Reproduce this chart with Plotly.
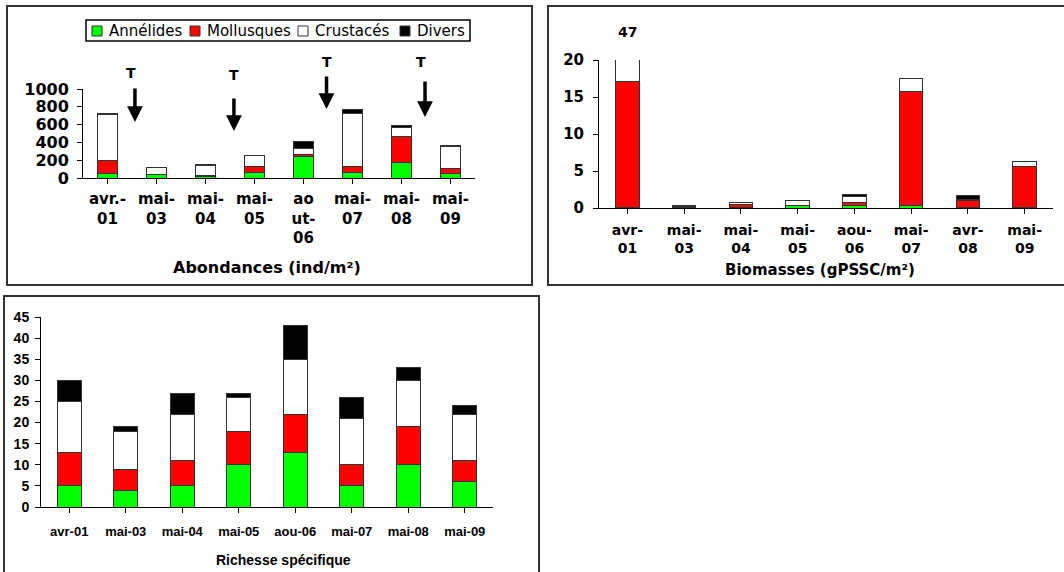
import plotly.graph_objects as go

W, H = 1064, 572

# ---------------- data ----------------
series_names = ["Annélides", "Mollusques", "Crustacés", "Divers"]
series_colors = ["#00FF00", "#FF0000", "#FFFFFF", "#000000"]

# Abondances (ind/m²)
abund_labels = ["avr.-<br>01", "mai-<br>03", "mai-<br>04", "mai-<br>05", "ao<br>ut-<br>06",
                "mai-<br>07", "mai-<br>08", "mai-<br>09"]
abund_annelides = [55, 35, 15, 60, 240, 65, 175, 50]
abund_mollusques = [145, 5, 15, 65, 25, 60, 290, 60]
abund_crustaces = [515, 80, 105, 125, 65, 605, 105, 245]
abund_divers = [5, 0, 15, 3, 80, 45, 15, 15]
abund_yticks = [0, 200, 400, 600, 800, 1000]

# "T" arrows (category position, tip value, tail value, label position/value)
arrow_x = [0.56, 2.58, 4.47, 6.48]
arrow_tip = [629, 528, 775, 685]
arrow_tail = [1022, 910, 1157, 1101]
arrow_label_x = [0.48, 2.58, 4.47, 6.40]
arrow_label_y = [1180, 1157, 1303, 1303]

# Biomasses (gPSSC/m²)
bio_labels = ["avr-<br>01", "mai-<br>03", "mai-<br>04", "mai-<br>05", "aou-<br>06",
              "mai-<br>07", "avr-<br>08", "mai-<br>09"]
bio_annelides = [0.1, 0.1, 0.05, 0.3, 0.3, 0.35, 0.05, 0.05]
bio_mollusques = [17.05, 0.05, 0.4, 0.05, 0.4, 15.45, 0.95, 5.6]
bio_crustaces = [29.85, 0.25, 0.35, 0.65, 0.8, 1.7, 0.1, 0.65]
bio_divers = [0, 0, 0, 0, 0.35, 0.05, 0.6, 0]
bio_yticks = [0, 5, 10, 15, 20]

# Richesse spécifique
rich_labels = ["avr-01", "mai-03", "mai-04", "mai-05", "aou-06", "mai-07", "mai-08", "mai-09"]
rich_annelides = [5, 4, 5, 10, 13, 5, 10, 6]
rich_mollusques = [8, 5, 6, 8, 9, 5, 9, 5]
rich_crustaces = [12, 9, 11, 8, 13, 11, 11, 11]
rich_divers = [5, 1, 5, 1, 8, 5, 3, 2]
rich_yticks = [0, 5, 10, 15, 20, 25, 30, 35, 40, 45]


def px(x):
    return x / W


def py(y):
    return 1 - y / H


WIDE = "DejaVu Sans"
ARIAL = "Liberation Sans, Arial"

fig = go.Figure()

panels = [
    (abund_labels, [abund_annelides, abund_mollusques, abund_crustaces, abund_divers], "x", "y", 0.41),
    (bio_labels, [bio_annelides, bio_mollusques, bio_crustaces, bio_divers], "x2", "y2", 0.41),
    (rich_labels, [rich_annelides, rich_mollusques, rich_crustaces, rich_divers], "x3", "y3", 0.43),
]

for labels, series, xa, ya, bw in panels:
    xs = list(range(len(labels)))
    for name, color, vals in zip(series_names, series_colors, series):
        fig.add_trace(go.Bar(
            x=xs, y=vals, name=name, xaxis=xa, yaxis=ya, width=bw,
            marker=dict(color=color, line=dict(color="#333333", width=1)),
            showlegend=False, hoverinfo="skip",
        ))

axis_common = dict(showline=True, linecolor="black", linewidth=1, ticks="outside",
                   ticklen=5, tickcolor="black", showgrid=False, zeroline=False, automargin=False)

fig.update_layout(
    width=W, height=H, margin=dict(l=0, r=0, t=0, b=0, autoexpand=False),
    paper_bgcolor="white", plot_bgcolor="white",
    barmode="stack",
    showlegend=False,
    # panel 1
    xaxis=dict(domain=[px(83), px(475)], anchor="y", range=[-0.5, 7.5],
               tickmode="array", tickvals=list(range(8)), ticktext=abund_labels, tickson="boundaries",
               tickfont=dict(family=WIDE, size=15, color="black", weight="bold"), ticklabelstandoff=2,
               **axis_common),
    yaxis=dict(domain=[py(178), py(89)], anchor="x", range=[0, 1000], tickvals=abund_yticks,
               tickfont=dict(family=WIDE, size=16, color="black", weight="bold"), ticklabelstandoff=5,
               **axis_common),
    # panel 2
    xaxis2=dict(domain=[px(599), px(1053)], anchor="y2", range=[-0.5, 7.5],
                tickmode="array", tickvals=list(range(8)), ticktext=bio_labels, tickson="boundaries",
                tickfont=dict(family=WIDE, size=14, color="black", weight="bold"), ticklabelstandoff=4,
                **axis_common),
    yaxis2=dict(domain=[py(208), py(60)], anchor="x2", range=[0, 20], tickvals=bio_yticks,
                tickfont=dict(family=WIDE, size=15, color="black", weight="bold"), ticklabelstandoff=6,
                **axis_common),
    # panel 3
    xaxis3=dict(domain=[px(41), px(493)], anchor="y3", range=[-0.5, 7.5],
                tickmode="array", tickvals=list(range(8)), ticktext=rich_labels, tickson="boundaries",
                tickfont=dict(family=ARIAL, size=13, color="black", weight="bold"), ticklabelstandoff=7,
                **axis_common),
    yaxis3=dict(domain=[py(507), py(317)], anchor="x3", range=[0, 45], tickvals=rich_yticks,
                tickfont=dict(family=ARIAL, size=14, color="black", weight="bold"), ticklabelstandoff=3,
                **axis_common),
)

# panel frames
frames = [(7, 6, 532, 285), (548, 6, 1070, 285), (4, 296, 539, 600)]
for x0, y0, x1, y1 in frames:
    fig.add_shape(type="rect", xref="paper", yref="paper", x0=px(x0), y0=py(y0), x1=px(x1), y1=py(y1),
                  line=dict(color="#333333", width=2), fillcolor="rgba(0,0,0,0)", layer="above")

# legend (panel 1), drawn manually
legend_box = (86, 20, 470, 41)
legend_sym_x = [92, 190, 298, 400]
legend_cy = 31
fig.add_shape(type="rect", xref="paper", yref="paper", x0=px(legend_box[0]), y0=py(legend_box[1]),
              x1=px(legend_box[2]), y1=py(legend_box[3]), line=dict(color="black", width=1.5),
              fillcolor="white")
for name, color, sx in zip(series_names, series_colors, legend_sym_x):
    fig.add_shape(type="rect", xref="paper", yref="paper", x0=px(sx), y0=py(legend_cy - 5),
                  x1=px(sx + 10), y1=py(legend_cy + 5), line=dict(color="#333333", width=1),
                  fillcolor=color)
    fig.add_annotation(x=px(sx + 15), y=py(legend_cy), xref="paper", yref="paper", text=name,
                       showarrow=False, xanchor="left", yanchor="middle",
                       font=dict(family=WIDE, size=15, color="black"))

# arrows and T labels
for xa, tip, tail, lx, ly in zip(arrow_x, arrow_tip, arrow_tail, arrow_label_x, arrow_label_y):
    fig.add_annotation(x=xa, y=tip, ax=xa, ay=tail, xref="x", yref="y", axref="x", ayref="y",
                       text="", showarrow=True, arrowhead=2, arrowsize=0.9, arrowwidth=3.5,
                       arrowcolor="black", standoff=0, startstandoff=0)
    fig.add_annotation(x=lx, y=ly / abund_yticks[-1], xref="x", yref="y domain", text="T",
                       showarrow=False, xanchor="center", yanchor="middle",
                       font=dict(family=WIDE, size=14, color="black", weight="bold"))

# total label above clipped biomass bar
bio_totals = [a + m + c + d for a, m, c, d in zip(bio_annelides, bio_mollusques, bio_crustaces, bio_divers)]
fig.add_annotation(x=0, y=23.8 / bio_yticks[-1], xref="x2", yref="y2 domain",
                   text=str(round(bio_totals[0])), showarrow=False, xanchor="center", yanchor="middle",
                   font=dict(family=WIDE, size=14, color="black", weight="bold"))

# axis titles
titles = [
    ("Abondances (ind/m²)", 267, 267, WIDE, 16),
    ("Biomasses (gPSSC/m²)", 820, 270, WIDE, 15),
    ("Richesse spécifique", 283, 560, ARIAL, 14),
]
for t, x, y, fam, sz in titles:
    fig.add_annotation(x=px(x), y=py(y), xref="paper", yref="paper", text=t, showarrow=False,
                       xanchor="center", yanchor="middle",
                       font=dict(family=fam, size=sz, color="black", weight="bold"))

fig.write_html("out.html", config={"displayModeBar": False},
               post_script="document.body.style.margin='0px';")
